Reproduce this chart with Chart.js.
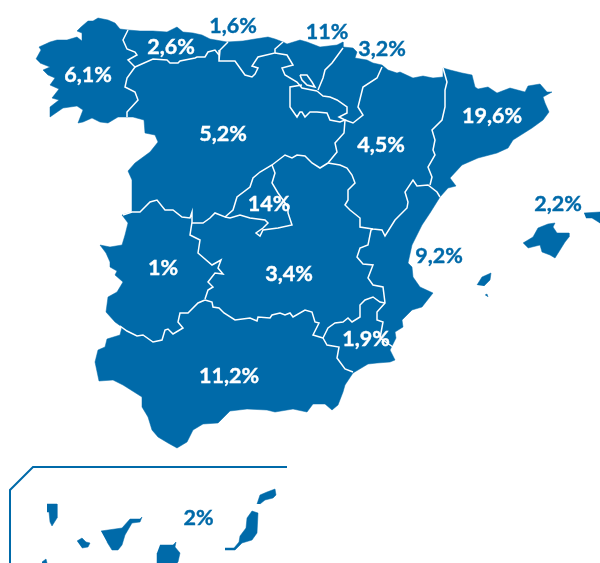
<!DOCTYPE html>
<html><head><meta charset="utf-8">
<style>html,body{margin:0;padding:0;background:#fff}#w{position:relative;width:600px;height:563px}</style>
<script src="https://cdn.jsdelivr.net/npm/chart.js@4"></script></head>
<body><div id="w"><canvas id="c" width="600" height="563"></canvas></div>
<script>
// Regions and their share
const regionNames = ["Galicia","Asturias","Cantabria","País Vasco","Navarra","Castilla y León","Aragón","Cataluña","Madrid","Extremadura","Castilla-La Mancha","C. Valenciana","Murcia","Andalucía","Baleares","Canarias"];
const regionShares = ["6,1%","2,6%","1,6%","11%","3,2%","5,2%","4,5%","19,6%","14%","1%","3,4%","9,2%","1,9%","11,2%","2,2%","2%"];
const labelX = [88,171,233,327,382,223,381,492,269,163,289,439,366,229,558,198.5];
const labelY = [75,47,26,32,49,134,145,116,204,268,274,256,339,376,204,517.5];
const labelInside = [1,1,0,0,0,1,1,1,1,1,1,0,1,1,0,0];

// Map geometry, in map units
const mainland = [[36,59],[41,50],[39,47],[50,42],[57,40],[67,40],[77,37],[82,41],[82,33],[77,31],[81,27],[88,21],[93,21],[98,18],[108,20],[115,23],[120,29],[128,30],[140,31],[153,31],[167,32],[177,27],[183,32],[193,33],[202,35],[210,39],[227,42],[243,41],[255,39],[268,37],[275,39],[283,42],[287,44],[300,40],[307,42],[320,47],[337,45],[343,42],[343,47],[353,48],[357,52],[355,58],[367,60],[373,63],[382,65],[388,70],[397,73],[400,72],[413,78],[423,76],[433,78],[443,77],[443,68],[450,70],[462,73],[472,75],[475,87],[478,89],[488,87],[497,93],[510,88],[525,92],[528,86],[540,84],[547,92],[552,92],[543,97],[545,103],[549,112],[543,120],[532,128],[513,140],[508,148],[497,153],[478,158],[462,165],[450,178],[456,186],[448,188],[440,197],[430,213],[422,225],[412,245],[408,263],[412,267],[413,277],[420,287],[433,293],[422,307],[412,310],[402,320],[403,327],[395,332],[396,338],[390,350],[395,360],[390,362],[377,363],[368,364],[353,373],[345,385],[343,392],[338,405],[332,410],[325,404],[313,404],[307,412],[293,409],[275,412],[267,410],[247,409],[230,411],[218,423],[203,424],[193,430],[187,442],[177,448],[168,443],[158,437],[152,430],[148,417],[142,407],[142,397],[123,385],[113,380],[99,381],[95,362],[98,350],[105,347],[107,339],[120,335],[122,327],[115,322],[106,312],[108,297],[117,292],[123,282],[115,275],[117,271],[110,267],[110,262],[106,253],[100,245],[110,247],[122,245],[125,235],[128,223],[122,215],[132,212],[132,193],[132,180],[128,171],[135,163],[150,152],[158,142],[155,135],[145,133],[144,120],[133,117],[118,117],[108,123],[100,122],[92,118],[83,122],[78,123],[83,110],[77,106],[63,108],[50,117],[50,107],[59,100],[52,98],[59,89],[50,85],[55,78],[48,75],[43,70],[50,67],[40,63]];
const mallorca = [[523,243],[533,237],[538,228],[548,224],[555,223],[553,227],[557,233],[563,233],[569,233],[569,237],[565,242],[560,250],[555,258],[550,255],[542,252],[540,245],[532,247],[528,248]];
const ibiza = [[477,285],[482,277],[491,273],[490,280],[484,286]];
const formentera = [[485,295],[487,294],[488,297]];
const menorca = [[584,213],[600,212],[600,223],[592,218],[586,218]];
const laPalma = [[47,504],[57,504],[57,518],[52,526],[50,522],[49,512],[47,512]];
const laGomera = [[77,541],[82,538],[86,542],[90,543],[88,547],[82,548]];
const tenerife = [[101,531],[122,528],[130,519],[140,519],[142,517],[140,522],[132,523],[125,535],[122,545],[118,550],[112,550],[107,542]];
const granCanaria = [[160,545],[173,545],[176,542],[175,547],[180,553],[178,562],[177,563],[157,563],[157,553]];
const elHierro = [[42,562],[46,559],[47,563],[42,563]];
const fuerteventura = [[225,548],[234,548],[239,542],[240,536],[246,528],[247,518],[252,511],[258,513],[257,533],[252,540],[242,543],[235,550],[225,550]];
const lanzarote = [[257,504],[260,495],[267,492],[275,489],[276,495],[273,498],[265,500],[260,504]];
const landShapes = [mainland,mallorca,ibiza,formentera,menorca,laPalma,laGomera,tenerife,granCanaria,elHierro,fuerteventura,lanzarote];

const borders = [
 [[128,30],[123,40],[127,49],[135,52],[137,55],[128,60],[135,67],[127,78],[125,87],[135,92],[138,100],[127,112],[127,117]],
 [[135,67],[153,59],[167,60],[170,63],[178,63],[180,61],[195,58],[197,57],[205,57],[208,52],[215,50],[219,55]],
 [[228,42],[220,50],[219,61],[235,61],[245,75],[252,77],[255,74],[258,68],[252,66],[258,57],[275,53],[275,49],[283,42]],
 [[275,53],[287,55],[293,65],[282,68],[285,75],[297,82],[302,88],[317,91]],
 [[300,75],[307,75],[312,82],[315,87],[307,85],[302,80],[300,75]],
 [[343,48],[332,63],[325,70],[323,78],[318,90]],
 [[317,91],[323,96],[330,97],[337,100],[347,107],[347,113],[339,117],[345,120],[340,122],[330,120],[327,113],[317,112],[310,112],[305,117],[302,112],[300,112],[297,117],[290,107],[290,87],[302,85]],
 [[382,67],[377,78],[363,87],[358,107],[363,115],[353,123],[345,120],[344,133],[335,143],[337,152],[328,163]],
 [[328,163],[340,165],[347,168],[352,175],[355,183],[348,190],[348,200],[345,205],[350,210],[360,218],[360,227],[373,229],[382,230],[385,236],[395,220],[407,208],[408,202],[405,192],[413,180],[417,186],[428,185],[437,192],[440,197]],
 [[443,68],[447,82],[445,90],[445,107],[442,120],[432,130],[435,140],[433,150],[435,155],[428,167],[432,177],[430,185]],
 [[328,163],[320,168],[312,163],[305,156],[297,155],[292,158],[285,155],[272,165],[260,172],[253,178],[250,187],[237,197],[233,210],[225,217],[215,213],[210,218],[203,223],[192,223]],
 [[272,165],[275,173],[272,183],[278,193],[288,207],[288,213],[292,225],[278,228],[263,230],[260,236],[256,233],[263,228],[268,223],[265,220],[250,218],[240,215],[230,218],[225,217]],
 [[123,215],[132,212],[140,212],[150,202],[157,200],[165,210],[173,210],[182,217],[190,218],[192,212],[192,222],[190,235],[200,240],[198,253],[212,265],[221,260],[218,268],[223,274],[215,273],[208,282],[213,287],[208,290],[205,299]],
 [[205,300],[198,303],[188,313],[180,313],[178,322],[183,328],[173,334],[168,329],[165,330],[162,340],[153,342],[143,335],[137,336],[127,331],[120,326]],
 [[205,300],[212,302],[213,307],[219,308],[224,313],[235,320],[250,318],[257,321],[258,317],[270,318],[272,315],[280,313],[285,315],[290,313],[293,317],[305,310],[312,312],[315,322],[319,323],[313,335],[323,338]],
 [[323,338],[328,328],[335,323],[343,322],[348,318],[352,322],[360,317],[360,305],[365,300],[373,297],[380,302],[385,303]],
 [[373,229],[371,230],[368,245],[360,248],[357,257],[363,264],[373,265],[368,278],[373,285],[383,287],[385,303],[377,312],[377,320],[383,322],[380,338],[393,347]],
 [[323,338],[327,345],[339,347],[337,358],[345,369],[353,372]]
];
const insetFrame = [[10,563],[10,490],[33,467],[287,467]];

const BLUE = "#006aa9";
const xy = p => ({x:p[0],y:p[1]});
// Chart.js paints the first dataset on top, so the white borders come first.
const datasets = [];
borders.forEach(b => datasets.push({data:b.map(xy),showLine:true,fill:false,borderColor:"#fff",borderWidth:1.5,pointRadius:0,tension:0}));
datasets.push({data:insetFrame.map(xy),showLine:true,fill:false,borderColor:BLUE,borderWidth:2,pointRadius:0,tension:0});
landShapes.forEach(s => datasets.push({data:s.map(xy),showLine:true,fill:"shape",backgroundColor:BLUE,borderColor:BLUE,borderWidth:0.5,pointRadius:0,tension:0}));

const shareLabels = {id:"shareLabels",afterDatasetsDraw(chart){
  const {ctx,scales:{x,y}} = chart;
  ctx.save();
  ctx.font = "bold 21.5px Lato";
  ctx.textAlign = "center"; ctx.textBaseline = "middle";
  ctx.lineWidth = 0.4;
  regionShares.forEach((t,i)=>{
    const color = labelInside[i] ? "#fff" : BLUE;
    const px = x.getPixelForValue(labelX[i]), py = y.getPixelForValue(labelY[i]+0.5);
    ctx.fillStyle = color; ctx.strokeStyle = color;
    ctx.fillText(t,px,py); ctx.strokeText(t,px,py);
  });
  ctx.restore();
}};

new Chart(document.getElementById("c"),{
  type:"scatter",
  data:{datasets},
  plugins:[shareLabels],
  options:{
    responsive:false,animation:false,
    layout:{padding:0},
    plugins:{legend:{display:false},tooltip:{enabled:false},title:{display:false}},
    scales:{
      x:{type:"linear",min:0,max:600,display:false},
      y:{type:"linear",min:0,max:563,reverse:true,display:false}
    }
  }
});
</script></body></html>
